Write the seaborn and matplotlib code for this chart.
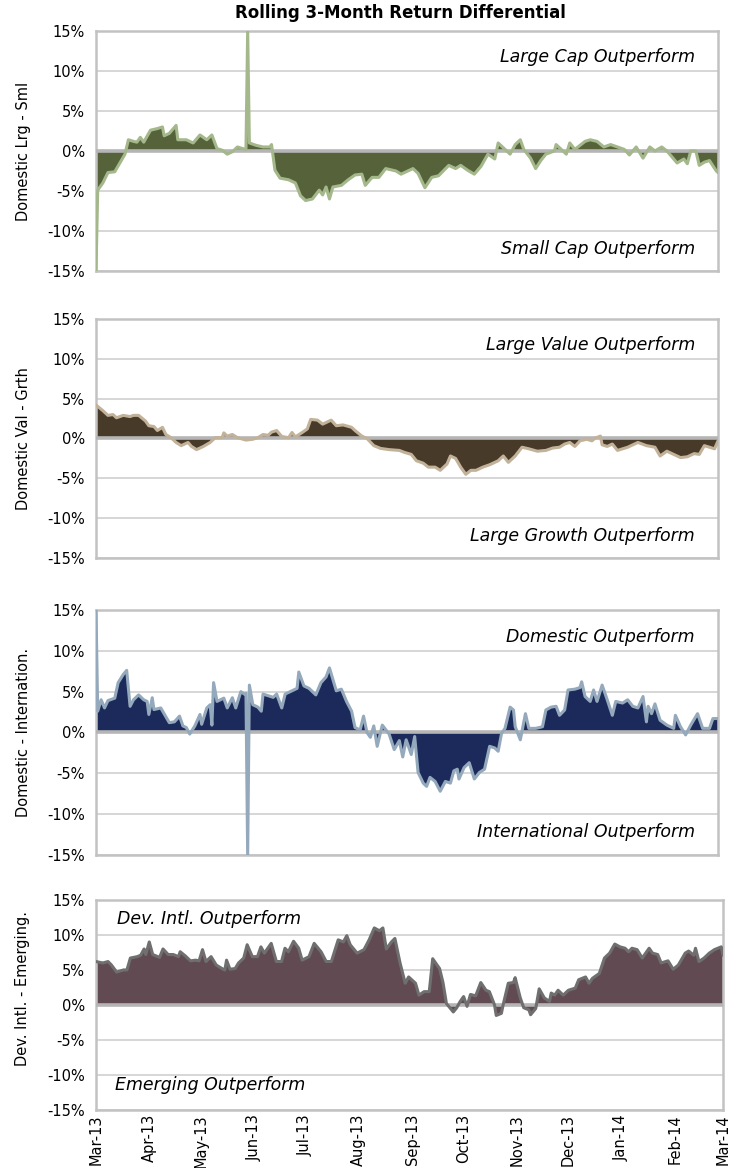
import pandas as pd
import seaborn as sns
import matplotlib.pyplot as plt
import matplotlib.dates as mdates
from matplotlib.ticker import FuncFormatter, MultipleLocator

sns.set_style("white")
plt.rcParams['font.family'] = ['Liberation Sans Narrow', 'DejaVu Sans']
plt.rcParams['text.color'] = 'black'
plt.rcParams['axes.labelcolor'] = 'black'
plt.rcParams['xtick.color'] = 'black'
plt.rcParams['ytick.color'] = 'black'

start = pd.Timestamp('2013-03-01')

# days after 1 Mar 2013, value in %
lrg_sml_days = [0, 1, 4, 7, 11, 14, 17, 19, 22, 24,
                26, 28, 32, 36, 39, 40, 43, 47, 48, 53,
                57, 61, 65, 68, 71, 74, 77, 80, 83, 86,
                88, 89, 90, 94, 98, 102, 103, 105, 108, 113,
                117, 120, 123, 127, 131, 133, 135, 137, 139, 144,
                148, 152, 156, 158, 162, 166, 170, 176, 179, 183,
                186, 189, 193, 197, 201, 207, 211, 214, 218, 222,
                226, 230, 234, 236, 240, 243, 246, 249, 251, 255,
                258, 261, 264, 269, 270, 273, 276, 278, 281, 287,
                290, 294, 298, 302, 306, 310, 313, 317, 321, 325,
                328, 332, 335, 341, 345, 347, 349, 352, 354, 357,
                360, 364, 365]
lrg_sml_vals = [-15, -4.9, -4.0, -2.7, -2.6, -1.5, -0.4, 1.4, 1.2, 1.1,
                1.7, 1.1, 2.6, 2.8, 3.0, 1.9, 2.2, 3.2, 1.4, 1.4,
                1.0, 2.0, 1.4, 2.0, 0.3, 0.1, -0.4, -0.1, 0.5, 0.3,
                0.2, 15, 1.0, 0.7, 0.5, 0.5, 0.8, -2.4, -3.4, -3.6,
                -4.0, -5.6, -6.2, -6.0, -4.9, -5.5, -4.5, -6.0, -4.5, -4.3,
                -3.6, -3.0, -2.9, -4.3, -3.3, -3.3, -2.2, -2.5, -2.9, -2.5,
                -2.2, -2.8, -4.6, -3.3, -3.1, -1.8, -2.2, -1.8, -2.4, -2.9,
                -1.9, -0.4, -1.0, 1.0, 0.2, -0.4, 0.8, 1.4, 0.2, -0.9,
                -2.2, -1.2, -0.4, 0.0, 0.8, 0.2, -0.4, 1.0, 0.2, 1.2,
                1.4, 1.2, 0.5, 0.8, 0.5, 0.2, -0.5, 0.5, -0.9, 0.5,
                0.0, 0.5, 0.0, -1.5, -1.0, -1.6, 0.0, 0.0, -1.8, -1.4,
                -1.2, -2.5, -2.7]

val_grth_days = [0, 4, 7, 10, 12, 16, 20, 22, 25, 29,
                 31, 34, 36, 39, 41, 44, 47, 50, 54, 56,
                 59, 63, 67, 70, 74, 75, 77, 80, 83, 88,
                 92, 95, 98, 101, 103, 106, 109, 113, 115, 117,
                 121, 124, 126, 130, 133, 138, 141, 145, 150, 152,
                 156, 159, 163, 167, 172, 178, 181, 185, 188, 192,
                 195, 199, 202, 206, 208, 211, 214, 217, 220, 223,
                 227, 231, 236, 239, 242, 246, 250, 254, 259, 264,
                 268, 272, 275, 278, 281, 284, 288, 291, 293, 296,
                 297, 300, 303, 306, 312, 318, 323, 328, 331, 335,
                 339, 343, 347, 351, 354, 357, 360, 363, 365]
val_grth_vals = [4.2, 3.5, 2.9, 3.0, 2.6, 2.9, 2.75, 2.9, 2.9, 2.2,
                 1.6, 1.5, 1.0, 1.4, 0.5, 0.1, -0.5, -0.9, -0.5, -1.0,
                 -1.4, -1.0, -0.5, 0.1, 0.1, 0.7, 0.3, 0.5, 0.1, -0.2,
                 -0.1, 0.1, 0.5, 0.4, 0.8, 1.0, 0.25, 0.1, 0.75, 0.2,
                 0.75, 1.2, 2.4, 2.3, 1.8, 2.3, 1.6, 1.7, 1.4, 1.0,
                 0.3, 0.0, -0.9, -1.25, -1.4, -1.5, -1.75, -2.0, -2.8, -3.1,
                 -3.6, -3.6, -4.0, -3.2, -2.2, -2.5, -3.6, -4.5, -4.0, -4.0,
                 -3.6, -3.3, -2.8, -2.2, -3.0, -2.2, -1.1, -1.3, -1.6, -1.5,
                 -1.2, -1.1, -0.7, -0.5, -1.0, -0.3, -0.1, -0.3, 0.05, 0.3,
                 -0.8, -1.0, -0.7, -1.5, -1.1, -0.5, -0.9, -1.1, -2.2, -1.6,
                 -2.0, -2.4, -2.3, -1.9, -2.0, -0.9, -1.1, -1.3, -0.3]

dom_intl_days = [0, 1, 3, 5, 7, 11, 13, 16, 18, 20,
                 22, 25, 28, 30, 31, 33, 34, 38, 43, 46,
                 49, 51, 53, 55, 58, 61, 62, 65, 67, 68,
                 69, 71, 75, 77, 80, 82, 85, 87, 88, 89,
                 90, 92, 95, 97, 98, 101, 104, 106, 109, 111,
                 115, 118, 119, 122, 125, 129, 132, 135, 137, 139,
                 141, 144, 147, 150, 152, 155, 157, 159, 161, 163,
                 165, 168, 172, 175, 178, 180, 182, 185, 187, 189,
                 192, 194, 196, 199, 202, 205, 208, 210, 212, 213,
                 216, 219, 222, 225, 228, 231, 234, 236, 238, 240,
                 243, 245, 246, 249, 252, 254, 258, 262, 264, 267,
                 270, 272, 275, 277, 281, 284, 285, 287, 290, 292,
                 294, 297, 300, 303, 305, 309, 312, 315, 318, 321,
                 323, 324, 326, 328, 331, 335, 339, 340, 343, 346,
                 349, 353, 356, 360, 362, 365]
dom_intl_vals = [15, 2.6, 4.0, 3.0, 3.9, 4.2, 6.1, 7.1, 7.6, 3.2,
                 4.0, 4.6, 4.0, 3.8, 2.2, 4.25, 2.8, 3.0, 1.2, 1.3,
                 2.0, 0.8, 0.6, -0.2, 0.8, 2.2, 1.0, 3.0, 3.4, 0.9,
                 6.1, 3.8, 4.2, 3.0, 4.25, 3.0, 5.0, 4.7, 4.8, -15,
                 5.8, 3.4, 3.1, 2.6, 4.7, 4.5, 4.3, 4.7, 3.0, 4.7,
                 5.1, 5.4, 7.4, 5.7, 5.4, 4.6, 6.1, 6.8, 7.9, 6.5,
                 5.1, 5.3, 3.8, 2.6, 0.6, 0.3, 2.0, 0.0, -0.6, 0.8,
                 -1.7, 0.9, -0.2, -2.1, -1.0, -3.0, -0.9, -2.7, -0.5, -4.9,
                 -6.2, -6.6, -5.5, -6.0, -7.2, -6.0, -6.2, -4.7, -4.5, -5.7,
                 -4.3, -3.7, -5.7, -4.9, -4.5, -1.7, -1.9, -2.3, -0.1, 0.5,
                 3.1, 2.75, 0.7, -0.9, 2.3, 0.5, 0.5, 0.7, 2.75, 3.1,
                 3.2, 2.1, 2.75, 5.2, 5.3, 5.5, 6.2, 4.4, 3.8, 5.2,
                 3.8, 5.8, 4.0, 2.1, 3.8, 3.6, 4.0, 3.2, 3.0, 4.4,
                 1.3, 3.2, 2.3, 3.5, 1.5, 0.9, 0.5, 2.1, 0.7, -0.3,
                 0.9, 2.3, 0.5, 0.5, 1.7, 1.7]

dev_em_days = [0, 4, 7, 9, 12, 16, 18, 20, 24, 26,
               28, 29, 31, 33, 37, 39, 42, 45, 48, 49,
               52, 55, 58, 60, 62, 64, 67, 70, 74, 75,
               76, 78, 81, 83, 86, 88, 91, 94, 96, 98,
               102, 105, 108, 110, 112, 115, 118, 120, 124, 127,
               131, 134, 137, 141, 144, 146, 148, 152, 156, 159,
               162, 165, 167, 169, 172, 174, 177, 180, 182, 186,
               188, 191, 194, 196, 200, 202, 204, 208, 210, 212,
               214, 216, 218, 221, 224, 227, 229, 232, 233, 236,
               237, 240, 243, 244, 247, 249, 252, 253, 256, 258,
               261, 264, 265, 267, 269, 272, 275, 279, 281, 285,
               287, 289, 293, 296, 299, 302, 305, 308, 310, 312,
               315, 318, 322, 324, 327, 329, 333, 336, 339, 343,
               345, 348, 349, 351, 354, 357, 360, 364, 365]
dev_em_vals = [6.2, 6.0, 6.2, 5.7, 4.7, 5.0, 5.0, 6.7, 6.9, 7.1,
               8.0, 7.2, 9.0, 7.2, 6.8, 8.0, 7.2, 7.2, 6.9, 7.6,
               7.0, 6.3, 6.4, 6.3, 7.9, 6.2, 6.9, 5.7, 5.1, 5.0,
               6.4, 5.1, 5.2, 6.0, 6.7, 8.6, 6.9, 6.9, 8.3, 7.4,
               8.8, 6.2, 6.2, 8.1, 7.6, 9.1, 8.1, 6.4, 6.9, 8.8,
               7.6, 6.2, 6.2, 9.3, 9.0, 9.9, 8.6, 7.4, 7.9, 9.3,
               11.0, 10.6, 11.0, 8.0, 9.0, 9.5, 6.0, 3.1, 4.0, 3.1,
               1.4, 1.9, 1.9, 6.6, 5.2, 3.2, 0.2, -1.0, -0.4, 0.5,
               1.2, -0.2, 1.5, 1.3, 3.2, 2.1, 1.9, 0.0, -1.5, -1.2,
               0.0, 3.1, 3.2, 3.9, 1.0, -0.4, -0.7, -1.4, -0.5, 2.3,
               1.0, 0.5, 1.7, 1.4, 2.1, 1.4, 2.1, 2.4, 3.6, 4.0,
               3.1, 3.8, 4.5, 6.7, 7.4, 8.7, 8.3, 8.1, 7.6, 8.1,
               7.9, 6.7, 8.1, 7.4, 7.2, 6.0, 6.3, 5.1, 5.7, 7.4,
               7.7, 7.1, 8.1, 6.2, 6.7, 7.4, 7.9, 8.3, 7.1]

ylabels = ['Domestic Lrg - Sml', 'Domestic Val - Grth',
           'Domestic - Internation.', 'Dev. Intl. - Emerging.']
top_notes = ['Large Cap Outperform', 'Large Value Outperform',
             'Domestic Outperform', 'Dev. Intl. Outperform']
bottom_notes = ['Small Cap Outperform', 'Large Growth Outperform',
                'International Outperform', 'Emerging Outperform']
fill_colors = ['#56623a', '#483a29', '#1c2a5b', '#614a51']
line_colors = ['#a4b88b', '#c2b29a', '#94a9bc', '#6f6f6f']

series = [(lrg_sml_days, lrg_sml_vals), (val_grth_days, val_grth_vals),
          (dom_intl_days, dom_intl_vals), (dev_em_days, dev_em_vals)]

# axes rectangles in figure fractions
rects = [[0.1308, 0.7680, 0.8474, 0.2055],
         [0.1308, 0.5223, 0.8474, 0.2046],
         [0.1308, 0.2680, 0.8474, 0.2098],
         [0.1308, 0.0497, 0.8542, 0.1798]]

fig = plt.figure(figsize=(7.34, 11.68), dpi=100)
fig.text(0.546, 0.989, 'Rolling 3-Month Return Differential', ha='center', va='center',
         fontsize=12, fontweight='bold')

for i, (days, vals) in enumerate(series):
    ax = fig.add_axes(rects[i])
    df = pd.DataFrame({'date': start + pd.to_timedelta(days, unit='D'), 'value': vals})
    ax.fill_between(df['date'], df['value'], 0, color=fill_colors[i], lw=0, zorder=2)
    ax.axhline(0, color='#b5b5b5', lw=2.6, zorder=3)
    sns.lineplot(data=df, x='date', y='value', ax=ax, color=line_colors[i], lw=2.2, zorder=4)
    ax.set_ylim(-15, 15)
    ax.set_xlim(start, pd.Timestamp('2014-03-01'))
    ax.yaxis.set_major_locator(MultipleLocator(5))
    ax.yaxis.set_major_formatter(FuncFormatter(lambda v, p: f'{v:.0f}%'))
    ax.grid(axis='y', color='#d0d0d0', lw=1.2, zorder=1)
    ax.grid(axis='x', visible=False)
    for s in ax.spines.values():
        s.set_color('#c2c2c2')
        s.set_linewidth(1.8)
    ax.tick_params(axis='y', length=0, labelsize=10.5, pad=8)
    ax.tick_params(axis='x', length=0, labelsize=10.5, pad=3)
    ax.set_xlabel('')
    ax.set_ylabel(ylabels[i], fontsize=10.5)
    ax.yaxis.set_label_coords(-0.105, 0.58 if i == 3 else 0.5)
    ax.xaxis.set_major_locator(mdates.MonthLocator())
    ax.xaxis.set_major_formatter(mdates.DateFormatter('%b-%y'))
    if i == 3:
        plt.setp(ax.get_xticklabels(), rotation=90)
        ax.text(0.034, 0.91, top_notes[i], transform=ax.transAxes, ha='left', va='center',
                fontsize=12.5, style='italic')
        ax.text(0.030, 0.119, bottom_notes[i], transform=ax.transAxes, ha='left', va='center',
                fontsize=12.5, style='italic')
    else:
        ax.set_xticklabels([])
        ax.text(0.963, 0.89, top_notes[i], transform=ax.transAxes, ha='right', va='center',
                fontsize=12.5, style='italic')
        ax.text(0.963, 0.092, bottom_notes[i], transform=ax.transAxes, ha='right', va='center',
                fontsize=12.5, style='italic')

fig.savefig('out.png', dpi=100)
